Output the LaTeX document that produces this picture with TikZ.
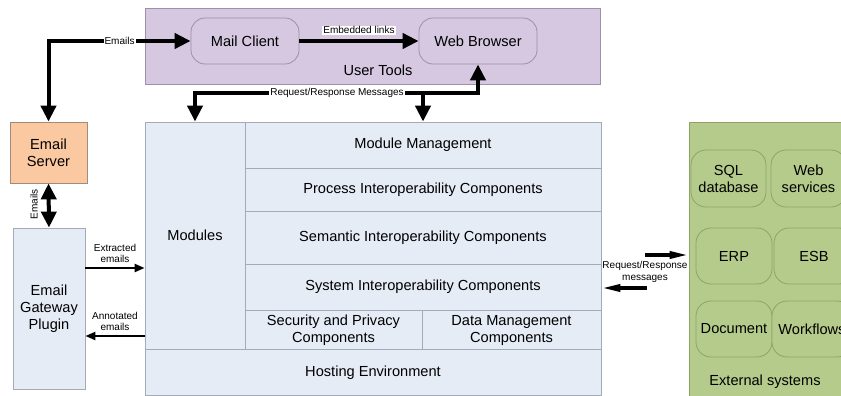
\documentclass[tikz,border=0pt]{standalone}
\usepackage{fontspec}
\setmainfont{Liberation Sans}
\usetikzlibrary{arrows.meta}
\definecolor{lav}{HTML}{D5C8E0}
\definecolor{lavline}{HTML}{9C92A8}
\definecolor{paleblue}{HTML}{E6ECF6}
\definecolor{blueline}{HTML}{A3ABB8}
\definecolor{peach}{HTML}{FAC9A2}
\definecolor{peachline}{HTML}{A08C7C}
\definecolor{green1}{HTML}{B5CB8B}
\definecolor{greenline}{HTML}{8EA36A}
\tikzset{
  box/.style={draw, line width=0.8pt, inner sep=0pt, align=center, font=\fontsize{14.6}{17}\selectfont},
  utbox/.style={box, draw=lavline, fill=lav},
  tool/.style={box, draw=lavline, fill=lav, rounded corners=14pt},
  blk/.style={box, draw=blueline, fill=paleblue},
  srv/.style={box, draw=peachline, fill=peach},
  extbox/.style={box, draw=greenline, fill=green1},
  sys/.style={box, draw=greenline, fill=green1, rounded corners=15pt},
  bigarrow/.style={line width=4pt, -{Triangle[length=16pt,width=15pt]}},
  bigboth/.style={line width=4pt, {Triangle[length=16pt,width=15pt]}-{Triangle[length=16pt,width=15pt]}},
  midarrow/.style={line width=2.2pt, -{Triangle[length=10pt,width=8pt]}},
  rrarrow/.style={line width=3.5pt, -{Triangle[length=19pt,width=7pt]}},
  lbl/.style={font=\fontsize{10}{11.5}\selectfont, inner sep=1pt, align=center},
  lblw/.style={lbl, fill=white},
  plain/.style={font=\fontsize{14.6}{17}\selectfont, inner sep=0pt, align=center}
}
\begin{document}
\begin{tikzpicture}[x=1pt,y=-1pt]
\useasboundingbox (0,0) rectangle (841,396);
% User tools
\node[utbox, minimum width=455pt, minimum height=76pt] (ut) at (372.5,46) {};
\node[plain] (utl) at (378,70) {User Tools};
\node[tool, minimum width=108pt, minimum height=46pt] (mail) at (245,41) {Mail Client};
\node[tool, minimum width=118pt, minimum height=46pt] (browser) at (478,41) {Web Browser};
% Email side
\node[srv, minimum width=77pt, minimum height=61pt] (server) at (48.5,152.5) {Email\\Server};
\node[blk, minimum width=72pt, minimum height=161pt] (gateway) at (49,308.5) {Email\\Gateway\\Plugin};
% Main block
\node[blk, minimum width=100pt, minimum height=227pt] (modules) at (195,235.5) {Modules};
\node[blk, minimum width=356pt, minimum height=46pt] (mm) at (423,145) {Module Management};
\node[blk, minimum width=356pt, minimum height=43pt] (proc) at (423,189.5) {Process Interoperability Components};
\node[blk, minimum width=356pt, minimum height=53pt] (sem) at (423,237.5) {Semantic Interoperability Components};
\node[blk, minimum width=356pt, minimum height=46pt] (sysi) at (423,287) {System Interoperability Components};
\node[blk, minimum width=177pt, minimum height=40pt] (sec) at (333.5,330) {Security and Privacy\\Components};
\node[blk, minimum width=179pt, minimum height=40pt] (dm) at (511.5,330) {Data Management\\Components};
\node[blk, minimum width=456pt, minimum height=46pt] (host) at (373,372.5) {Hosting Environment};
% External systems
\node[extbox, minimum width=165pt, minimum height=280pt] (ext) at (771.5,262) {};
\node[plain] (extl) at (765,382) {External systems};
\node[sys, minimum width=75pt, minimum height=57pt] (sql) at (728.5,178.5) {SQL\\database};
\node[sys, minimum width=75pt, minimum height=57pt] (web) at (808.5,178.5) {Web\\services};
\node[sys, minimum width=76pt, minimum height=56pt] (erp) at (734,256) {ERP};
\node[sys, minimum width=80pt, minimum height=56pt] (esb) at (814,256) {ESB};
\node[sys, minimum width=76pt, minimum height=56pt] (doc) at (734,329) {Document};
\node[sys, minimum width=80pt, minimum height=56pt] (wf) at (812,329) {Workflows};
% Connectors
\draw[bigboth] (server.north) |- (mail.west) node[lblw, pos=0.75] {Emails};
\draw[bigarrow] (mail.east) -- (browser.west) node[lblw, midway, above=4pt] {Embedded links};
\coordinate (rrj) at (0,93);
\draw[bigboth] (browser.south) |- (modules.north |- rrj) -- (modules.north);
\draw[bigarrow] (mm.north |- rrj) -- (mm.north);
\node[lblw] (rrlbl) at (337,93) {Request/Response Messages};
\draw[bigboth] (server.south) -- (gateway.north);
\node[lbl, rotate=90] (emv) at (34,204) {Emails};
\coordinate (ex) at (0,268);
\coordinate (an) at (0,336);
\draw[midarrow] (gateway.east |- ex) -- (modules.west |- ex) node[lbl, midway, above=3pt] {Extracted\\emails};
\draw[midarrow] (modules.west |- an) -- (gateway.east |- an) node[lbl, midway, above=3pt] {Annotated\\emails};
\coordinate (rq1) at (645,255);
\coordinate (rq2) at (647,288);
\draw[rrarrow] (rq1) -- (ext.west |- rq1);
\draw[rrarrow] (rq2) -- (sysi.east |- rq2);
\node[lbl] (rrl2) at (645,272) {Request/Response\\messages};
\end{tikzpicture}
\end{document}
